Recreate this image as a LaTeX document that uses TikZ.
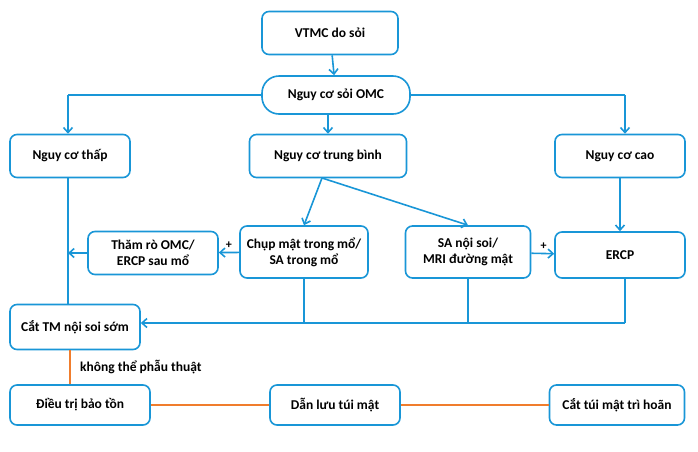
\documentclass[tikz,border=0pt]{standalone}
\usepackage{fontspec}
\setmainfont{Carlito}
\usetikzlibrary{arrows.meta}
\definecolor{flowblue}{RGB}{25,150,215}
\definecolor{flowora}{RGB}{240,125,45}

\begin{document}
\begin{tikzpicture}[
    x=1pt, y=-1pt,
    box/.style={draw=flowblue, line width=1.6pt, rounded corners=7pt, fill=white,
        align=center, font=\bfseries\fontsize{13.5}{16}\selectfont, inner sep=2pt},
    link/.style={draw=flowblue, line width=1.6pt},
    arr/.style={link, -{Straight Barb[length=5pt,width=9pt]}},
    orange/.style={draw=flowora, line width=1.6pt}
]
\useasboundingbox (0,0) rectangle (698,451);
% boxes
\node[box, minimum width=136pt, minimum height=43pt] (vtmc) at (330,33) {VTMC do sỏi};
\node[box, minimum width=148pt, minimum height=38pt, rounded corners=17pt] (omc) at (336,95) {Nguy cơ sỏi OMC};
\node[box, minimum width=120pt, minimum height=43pt] (thap) at (70,156) {Nguy cơ thấp};
\node[box, minimum width=157pt, minimum height=43pt] (tb) at (328,156) {Nguy cơ trung bình};
\node[box, minimum width=130pt, minimum height=43pt] (cao) at (620,156) {Nguy cơ cao};
\node[box, minimum width=130pt, minimum height=43pt] (thamro) at (153,253) {Thăm rò OMC/\\ERCP sau mổ};
\node[box, minimum width=128pt, minimum height=52pt] (chup) at (304,252) {Chụp mật trong mổ/\\SA trong mổ};
\node[box, minimum width=125pt, minimum height=52pt] (sans) at (468,252) {SA nội soi/\\MRI đường mật};
\node[box, minimum width=130pt, minimum height=46pt] (ercp) at (620,255) {ERCP};
\node[box, minimum width=130pt, minimum height=45pt] (cattm) at (75,327) {Cắt TM nội soi sớm};
\node[box, minimum width=140pt, minimum height=40pt] (dieutri) at (80,405) {Điều trị bảo tồn};
\node[box, minimum width=130pt, minimum height=40pt] (danluu) at (335,405) {Dẫn lưu túi mật};
\node[box, minimum width=135pt, minimum height=40pt] (cattui) at (617,405) {Cắt túi mật trì hoãn};
% helper points
\coordinate (jl) at (68,95);
\coordinate (jr) at (625,95);
\coordinate (jt) at (68,253);
\coordinate (jb) at (625,323);
% connectors
\draw[arr] (vtmc) -- (omc);
\draw[link] (omc.west) -- (jl);
\draw[link] (omc.east) -- (jr);
\draw[arr] (jl) -- (jl |- thap.north);
\draw[arr] (jr) -- (jr |- cao.north);
\draw[arr] (omc.south -| tb) -- (tb.north);
\draw[arr] (322,178) -- (chup.north);
\draw[arr] (322,178) -- (sans.north);
\draw[arr] (chup) -- node[above right, pos=0.85, font=\bfseries\large, text=black] {+} (thamro);
\draw[arr] (sans) -- node[above left, pos=0.85, font=\bfseries\large, text=black] {+} (ercp);
\draw[arr] (cao) -- (ercp);
\draw[arr] (thamro) -- (jt);
\draw[link] (thap.south -| jl) -- (cattm.north -| jl);
\draw[link] (ercp.south -| jb) -- (jb);
\draw[arr] (jb) -- (cattm.east |- jb);
\draw[link] (chup.south) -- (chup.south |- jb);
\draw[link] (sans.south) -- (sans.south |- jb);
\draw[orange] (cattm.south -| 70,0) -- node[right=6pt, font=\bfseries\fontsize{13.5}{16}\selectfont] {không thể phẫu thuật} (dieutri.north -| 70,0);
\draw[orange] (dieutri) -- (danluu);
\draw[orange] (danluu) -- (cattui);
\end{tikzpicture}
\end{document}
